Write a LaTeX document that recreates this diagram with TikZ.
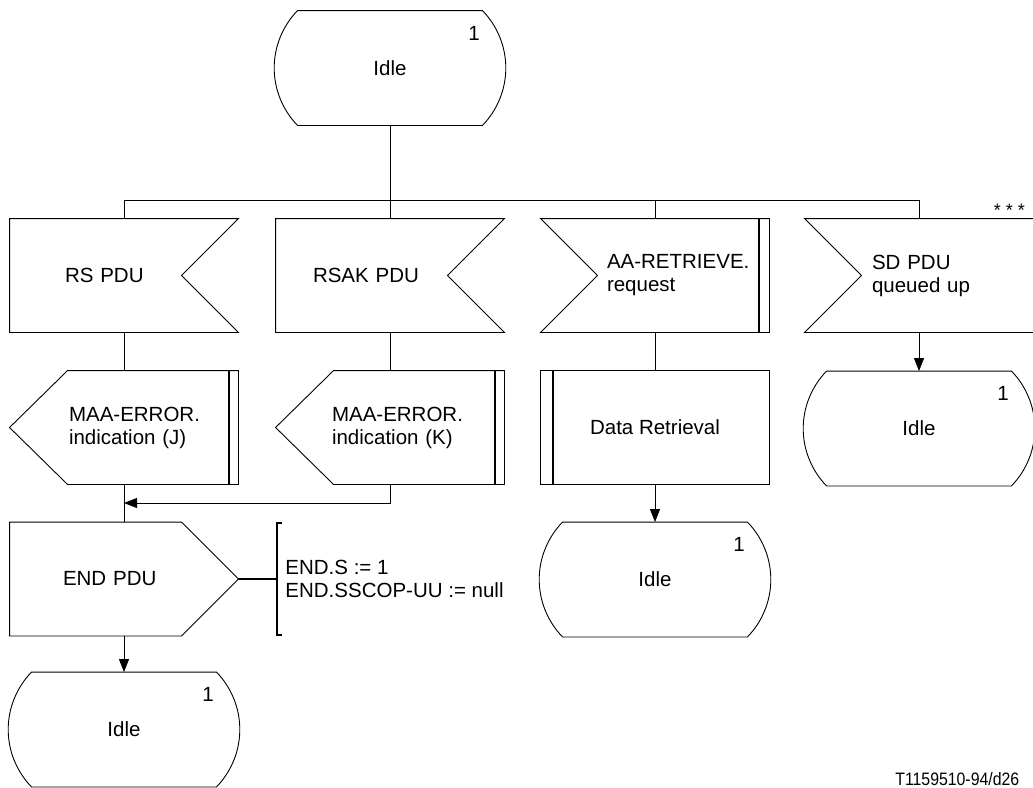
\documentclass[tikz,border=0pt]{standalone}
\usepackage{fontspec}
\setmainfont{Liberation Sans}
\usetikzlibrary{arrows.meta}

\begin{document}
\begin{tikzpicture}[x=1pt, y=-1pt, line width=0.9pt, >={Triangle[length=13pt,width=10pt]},
		every node/.style={font=\fontsize{20.5}{23}\selectfont}]
		\tikzstyle{box} = [minimum width=228pt, minimum height=113pt, inner sep=0pt, align=left]
		\tikzstyle{state} = [box, minimum height=114pt]
		\tikzstyle{nr} = [inner sep=0pt]
		\tikzstyle{bar} = [line width=2pt]
		\tikzstyle{note} = [align=left, minimum height=112pt, inner xsep=8pt, inner ysep=0pt]
		\useasboundingbox (0,0) rectangle (1033,787);

		\node[state] (idle0) at (390,68) {Idle};

		\node[box, text width=118pt] (rs) at (124,275.5) {RS PDU};
		\node[box, text width=154pt] (rsak) at (390,275.5) {RSAK PDU};
		\node[box, text width=96pt] (aar) at (655,275.5) {\mbox{AA-RETRIEVE.}\\request};
		\node[box, text width=94pt] (sd) at (919,275.5) {\mbox{SD PDU}\\\mbox{queued up}};
		\node[font=\fontsize{18}{20}\selectfont, anchor=base west] (more) at (990,216) {* * *};

		\node[box, text width=110pt] (errj) at (124,427.5) {\mbox{MAA-ERROR.}\\\mbox{indication (J)}};
		\node[box, text width=116pt] (errk) at (390,427.5) {\mbox{MAA-ERROR.}\\\mbox{indication (K)}};
		\node[box, align=center] (proc) at (655,427.5) {Data Retrieval};
		\node[state, align=center] (idleA) at (919,428.5) {Idle};

		\node[box, text width=122pt] (endpdu) at (124,579) {END PDU};
		\node[note, anchor=west] (endvars) at (277,579) {END.S := 1\\END.SSCOP-UU := null};
		\node[state, align=center] (idleB) at (655,579.5) {Idle};

		\node[state, align=center] (idleC) at (124,729.5) {Idle};

		\node[font=\fontsize{18}{20}\selectfont, anchor=base east] (docid) at (1023,785) {\scalebox{0.88}[1]{T1159510-94/d26}};

		% shapes
		\foreach \n in {idle0,idleA,idleB,idleC} {
			\draw ([xshift=22pt]\n.north west) -- ([xshift=-22pt]\n.north east) to[out=-46,in=46] ([xshift=-22pt]\n.south east)
				-- ([xshift=22pt]\n.south west) to[out=134,in=-134] ([xshift=22pt]\n.north west) -- cycle;
			\node[nr] (\n-nr) at ([shift={(84pt,35pt)}]\n.center) {1};
		}
		\foreach \n in {rs,rsak}
			\draw (\n.north west) -- (\n.north east) -- ([xshift=-57pt]\n.east) -- (\n.south east) -- (\n.south west) -- cycle;
		\foreach \n in {aar,sd}
			\draw (\n.north west) -- (\n.north east) -- (\n.south east) -- (\n.south west) -- ([xshift=57pt]\n.west) -- cycle;
		\foreach \n in {errj,errk} {
			\draw ([xshift=58pt]\n.north west) -- (\n.north east) -- (\n.south east) -- ([xshift=58pt]\n.south west) -- (\n.west) -- cycle;
			\draw[bar] ([xshift=-9pt]\n.north east) -- ([xshift=-9pt]\n.south east);
		}
		\draw[bar] ([xshift=-10pt]aar.north east) -- ([xshift=-10pt]aar.south east);
		\draw (endpdu.north west) -- ([xshift=-57pt]endpdu.north east) -- (endpdu.east) -- ([xshift=-57pt]endpdu.south east) -- (endpdu.south west) -- cycle;
		\draw (proc.north west) rectangle (proc.south east);
		\draw[bar] ([xshift=12pt]proc.north west) -- ([xshift=12pt]proc.south west);
		\draw[bar] ([xshift=5pt]endvars.north west) -- (endvars.north west) -- (endvars.south west) -- ([xshift=5pt]endvars.south west);

		% flow
		\coordinate (fork) at (390,200);
		\coordinate (merge) at (124,503);
		\draw (idle0.south) -- (fork);
		\draw (rs.north) |- (sd.north |- fork) -- (sd.north);
		\draw (rsak.north) -- (fork);
		\draw (aar.north) -- (aar.north |- fork);
		\draw (rs) -- (errj);
		\draw (rsak) -- (errk);
		\draw (errj) -- (endpdu);
		\draw[->] (errk.south) |- (merge);
		\draw[bar] (endpdu.east) -- (endvars.west);
		\draw[->] (endpdu) -- (idleC);
		\draw (aar) -- (proc);
		\draw[->] (proc) -- (idleB);
		\draw[->] (sd) -- (idleA);
	\end{tikzpicture}
\end{document}
